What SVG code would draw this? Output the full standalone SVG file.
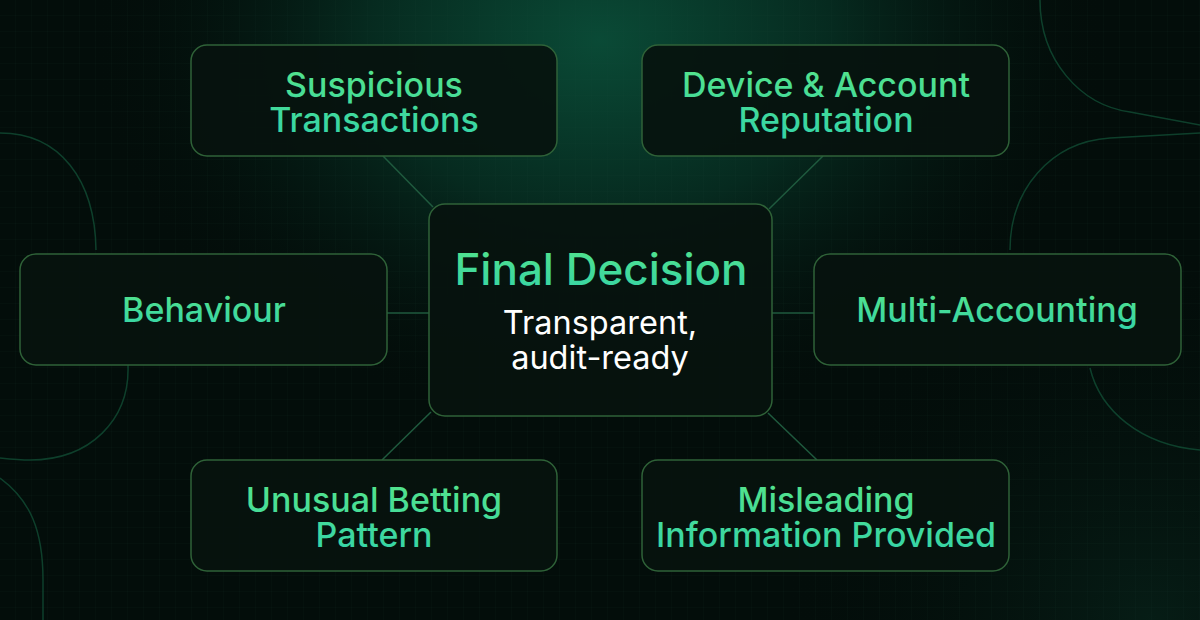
<svg xmlns="http://www.w3.org/2000/svg" width="1200" height="620" viewBox="0 0 1200 620">
  <defs>
    <radialGradient id="glow" cx="600" cy="40" r="520" gradientUnits="userSpaceOnUse" gradientTransform="translate(600 40) scale(1 0.75) translate(-600 -40)">
      <stop offset="0" stop-color="#0a4a36"/>
      <stop offset="0.45" stop-color="#062a1f"/>
      <stop offset="1" stop-color="#030c09" stop-opacity="0"/>
    </radialGradient>
    <radialGradient id="glow2" cx="1150" cy="620" r="380" gradientUnits="userSpaceOnUse">
      <stop offset="0" stop-color="#0a3024" stop-opacity="0.45"/>
      <stop offset="1" stop-color="#030c09" stop-opacity="0"/>
    </radialGradient>
    <linearGradient id="txt" x1="0" y1="0" x2="0" y2="1">
      <stop offset="0" stop-color="#55e48a"/>
      <stop offset="1" stop-color="#34d3a8"/>
    </linearGradient>
    <pattern id="grid" width="16" height="16" patternUnits="userSpaceOnUse">
      <path d="M16 0V16H0" fill="none" stroke="#1c4a36" stroke-width="0.6" stroke-opacity="0.22"/>
    </pattern>
    <style>
      .box { fill: #06120e; fill-opacity: 0.92; stroke: #2f6238; stroke-width: 1.5; }
      .lbl { font-family: Inter, "Noto Sans", sans-serif; font-size: 34px; font-weight: 500; fill: url(#txt); text-anchor: middle; }
      .title { font-family: Inter, "Noto Sans", sans-serif; font-size: 44px; font-weight: 500; fill: url(#txt); text-anchor: middle; }
      .sub { font-family: Inter, "Noto Sans", sans-serif; font-size: 32.5px; font-weight: 400; fill: #ffffff; text-anchor: middle; }
      .deco { fill: none; stroke: #145a3e; stroke-width: 1.5; stroke-opacity: 0.65; }
      .conn line { stroke: #1f5a3e; stroke-width: 1.5; }
    </style>
  </defs>
  <rect width="1200" height="620" fill="#030d0a"/>
  <rect width="1200" height="620" fill="url(#glow)"/>
  <rect width="1200" height="620" fill="url(#glow2)"/>
  <rect width="1200" height="620" fill="url(#grid)"/>

  <g id="decor">
    <path class="deco" d="M0 133 C60 133 95 180 96 250"/>
    <path class="deco" d="M128 365 C130 420 90 460 30 460 C20 460 10 459 0 458"/>
    <path class="deco" d="M0 478 C30 500 43 530 43 580 L43 620"/>
    <path class="deco" d="M1040 0 C1040 60 1080 105 1130 112 L1200 125"/>
    <path class="deco" d="M1200 133 L1110 138 C1050 142 1010 190 1010 250"/>
    <path class="deco" d="M1090 368 C1100 410 1140 445 1200 450" stroke-opacity="0.35"/>
  </g>

  <g id="connectors" class="conn">
    <line x1="383" y1="156" x2="433" y2="207"/>
    <line x1="823" y1="156" x2="769" y2="209"/>
    <line x1="387" y1="313" x2="429" y2="313"/>
    <line x1="772" y1="313" x2="814" y2="313"/>
    <line x1="431" y1="412" x2="382" y2="460"/>
    <line x1="768" y1="413" x2="817" y2="460"/>
  </g>

  <g id="node-suspicious">
    <rect class="box" x="191" y="45" width="366" height="111" rx="16"/>
    <text class="lbl"><tspan x="374" y="97">Suspicious</tspan><tspan x="374" y="132">Transactions</tspan></text>
  </g>
  <g id="node-device">
    <rect class="box" x="642" y="45" width="367" height="111" rx="16"/>
    <text class="lbl"><tspan x="826" y="97">Device &amp; Account</tspan><tspan x="826" y="132">Reputation</tspan></text>
  </g>
  <g id="node-behaviour">
    <rect class="box" x="20" y="254" width="367" height="111" rx="16"/>
    <text class="lbl" x="204" y="322">Behaviour</text>
  </g>
  <g id="node-center">
    <rect class="box" x="429" y="204" width="343" height="212" rx="16"/>
    <text class="title" x="601" y="285">Final Decision</text>
    <text class="sub"><tspan x="600" y="334">Transparent,</tspan><tspan x="600" y="369">audit-ready</tspan></text>
  </g>
  <g id="node-multi">
    <rect class="box" x="814" y="254" width="367" height="111" rx="16"/>
    <text class="lbl" x="997" y="322">Multi-Accounting</text>
  </g>
  <g id="node-unusual">
    <rect class="box" x="191" y="460" width="366" height="111" rx="16"/>
    <text class="lbl"><tspan x="374" y="512">Unusual Betting</tspan><tspan x="374" y="547">Pattern</tspan></text>
  </g>
  <g id="node-misleading">
    <rect class="box" x="642" y="460" width="367" height="111" rx="16"/>
    <text class="lbl"><tspan x="826" y="512">Misleading</tspan><tspan x="826" y="547">Information Provided</tspan></text>
  </g>
</svg>
